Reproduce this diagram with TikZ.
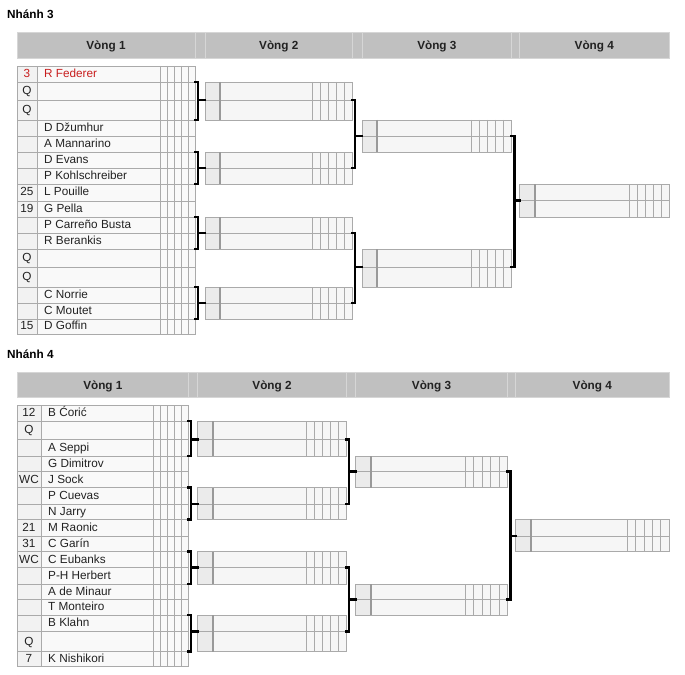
\documentclass[tikz,border=0pt]{standalone}
\usepackage{fontspec}
\setmainfont{Liberation Sans}
\definecolor{gridc}{RGB}{170,170,170}
\definecolor{seedone}{RGB}{242,242,242}
\definecolor{nameone}{RGB}{249,249,249}
\definecolor{seedboxc}{RGB}{235,235,235}
\definecolor{nameboxc}{RGB}{246,246,246}
\definecolor{hdrc}{RGB}{192,192,192}
\definecolor{hdrline}{RGB}{214,214,214}
\definecolor{txtc}{RGB}{34,34,34}
\definecolor{fedred}{RGB}{200,30,30}
\tikzset{
  grid/.style={draw=gridc, line width=0.8bp},
  seeddiv/.style={draw=gridc!90!black, line width=1.8bp},
  brk/.style={draw=black, line width=2.6bp, line join=miter, line cap=rect},
  hdrcell/.style={fill=hdrc, draw=hdrline, line width=1bp},
  hdrtxt/.style={font=\fontsize{11.8}{13}\selectfont\bfseries, text=txtc, anchor=base, inner sep=0pt},
  seedtxt/.style={font=\fontsize{11.8}{13}\selectfont, text=txtc, anchor=base, inner sep=0pt},
  nametxt/.style={font=\fontsize{11.8}{13}\selectfont, text=txtc, anchor=base west, inner sep=0pt},
  titletxt/.style={font=\fontsize{11.8}{13}\selectfont\bfseries, text=black, anchor=base west, inner sep=0pt}
}
% round-1 row: #1 id, #2 ytop, #3 ybot, #4 seed, #5 name ; uses \xa \xb \xc \xe
\newcommand\rowone[5]{%
  \pgfmathsetmacro\ymid{(#2+#3)/2}%
  \pgfmathsetmacro\sw{(\xe-\xc)/5}%
  \filldraw[grid, fill=seedone] (\xa,#2) rectangle (\xb,#3);
  \filldraw[grid, fill=nameone] (\xb,#2) rectangle (\xe,#3);
  \draw[grid] (\xc,#2) -- (\xc,#3);
  \foreach \k in {1,...,4}{\draw[grid] ({\xc+\k*\sw},#2) -- ({\xc+\k*\sw},#3);}
  \node[seedtxt] (#1s) at ({(\xa+\xb)/2},\ymid+3.4) {#4};
  \node[nametxt] (#1n) at (\xb+7,\ymid+3.4) {#5};
  \coordinate (#1ne) at (\xe,#2);
  \coordinate (#1se) at (\xe,#3);
}
% later-round box: #1 id, #2 x0, #3 seed end, #4 score start, #5 x1, #6 ytop, #7 ymid, #8 ybot
\newcommand\boxr[8]{%
  \pgfmathsetmacro\sw{(#5-#4)/5}%
  \fill[seedboxc] (#2,#6) rectangle (#3,#8);
  \fill[nameboxc] (#3,#6) rectangle (#5,#8);
  \draw[grid] (#2,#6) rectangle (#5,#8);
  \draw[grid] (#2,#7) -- (#5,#7);
  \foreach \k in {0,...,4}{\draw[grid] ({#4+\k*\sw},#6) -- ({#4+\k*\sw},#8);}
  \draw[seeddiv] (#3,#6) -- (#3,#8);
  \coordinate (#1w) at (#2,#7);
  \coordinate (#1e) at (#5,#7);
}
% header cell: #1 id, #2 x0, #3 x1, #4 y0, #5 y1, #6 text
\newcommand\hcell[6]{%
  \filldraw[hdrcell] (#2,#4) rectangle (#3,#5);
  \node[hdrtxt] (#1) at ({(#2+#3)/2},{(#4+#5)/2+4.2}) {#6};
}
\begin{document}
\begin{tikzpicture}[x=1bp,y=-1bp]
\useasboundingbox (0,0) rectangle (685,675);
\fill[white] (0,0) rectangle (685,675);

% ================= Nhánh 3 =================
\node[titletxt] (t3) at (7,18.8) {Nhánh 3};
\hcell{h3a}{17}{195}{33}{58.5}{Vòng 1}
\hcell{h3g1}{195}{205}{33}{58.5}{}
\hcell{h3b}{205}{352.5}{33}{58.5}{Vòng 2}
\hcell{h3g2}{352.5}{362}{33}{58.5}{}
\hcell{h3c}{362}{511.7}{33}{58.5}{Vòng 3}
\hcell{h3g3}{511.7}{519.3}{33}{58.5}{}
\hcell{h3d}{519.3}{669.3}{33}{58.5}{Vòng 4}

\def\xa{17}\def\xb{37}\def\xc{160}\def\xe{195}
\rowone{p1}{66}{82}{\color{fedred}3}{\color{fedred}R Federer}
\rowone{p2}{82}{100}{Q}{}
\rowone{p3}{100}{120}{Q}{}
\rowone{p4}{120}{136}{}{D Džumhur}
\rowone{p5}{136}{152}{}{A Mannarino}
\rowone{p6}{152}{168}{}{D Evans}
\rowone{p7}{168}{184}{}{P Kohlschreiber}
\rowone{p8}{184}{201}{25}{L Pouille}
\rowone{p9}{201}{217}{19}{G Pella}
\rowone{p10}{217}{233}{}{P Carreño Busta}
\rowone{p11}{233}{249}{}{R Berankis}
\rowone{p12}{249}{267}{Q}{}
\rowone{p13}{267}{287}{Q}{}
\rowone{p14}{287}{303}{}{C Norrie}
\rowone{p15}{303}{319}{}{C Moutet}
\rowone{p16}{319}{334}{15}{D Goffin}

\boxr{a1}{205}{220}{312}{352.5}{82}{100}{120}
\boxr{a2}{205}{220}{312}{352.5}{152}{168}{184}
\boxr{a3}{205}{220}{312}{352.5}{217}{233}{249}
\boxr{a4}{205}{220}{312}{352.5}{287}{303}{319}
\boxr{b1}{362}{377}{471.7}{511.7}{120}{136}{152}
\boxr{b2}{362}{377}{471.7}{511.7}{249}{267}{287}
\boxr{c1}{519.3}{535}{629.3}{669.3}{184}{200.5}{217}

\coordinate (v31) at (198,0);
\coordinate (v32) at (355,0);
\coordinate (v33) at (514.3,0);
\draw[brk] (p2ne) -- (p2ne -| v31) -- (p3se -| v31) -- (p3se);
\draw[brk] (a1w -| v31) -- (a1w);
\draw[brk] (p6ne) -- (p6ne -| v31) -- (p7se -| v31) -- (p7se);
\draw[brk] (a2w -| v31) -- (a2w);
\draw[brk] (p10ne) -- (p10ne -| v31) -- (p11se -| v31) -- (p11se);
\draw[brk] (a3w -| v31) -- (a3w);
\draw[brk] (p14ne) -- (p14ne -| v31) -- (p15se -| v31) -- (p15se);
\draw[brk] (a4w -| v31) -- (a4w);
\draw[brk] (a1e) -- (a1e -| v32) -- (a2e -| v32) -- (a2e);
\draw[brk] (b1w -| v32) -- (b1w);
\draw[brk] (a3e) -- (a3e -| v32) -- (a4e -| v32) -- (a4e);
\draw[brk] (b2w -| v32) -- (b2w);
\draw[brk] (b1e) -- (b1e -| v33) -- (b2e -| v33) -- (b2e);
\draw[brk] (c1w -| v33) -- (c1w);

% ================= Nhánh 4 =================
\node[titletxt] (t4) at (7,358.5) {Nhánh 4};
\hcell{h4a}{17}{188.7}{372.3}{397.7}{Vòng 1}
\hcell{h4g1}{188.7}{197.3}{372.3}{397.7}{}
\hcell{h4b}{197.3}{346.7}{372.3}{397.7}{Vòng 2}
\hcell{h4g2}{346.7}{355.7}{372.3}{397.7}{}
\hcell{h4c}{355.7}{507.3}{372.3}{397.7}{Vòng 3}
\hcell{h4g3}{507.3}{515.3}{372.3}{397.7}{}
\hcell{h4d}{515.3}{669.3}{372.3}{397.7}{Vòng 4}

\def\xa{17}\def\xb{41}\def\xc{153.3}\def\xe{188.7}
\rowone{q1}{405.7}{421}{12}{B Ćorić}
\rowone{q2}{421}{439.3}{Q}{}
\rowone{q3}{439.3}{456}{}{A Seppi}
\rowone{q4}{456}{471.7}{}{G Dimitrov}
\rowone{q5}{471.7}{487.7}{WC}{J Sock}
\rowone{q6}{487.7}{504}{}{P Cuevas}
\rowone{q7}{504}{519.3}{}{N Jarry}
\rowone{q8}{519.3}{536}{21}{M Raonic}
\rowone{q9}{536}{551.7}{31}{C Garín}
\rowone{q10}{551.7}{567.7}{WC}{C Eubanks}
\rowone{q11}{567.7}{584}{}{P-H Herbert}
\rowone{q12}{584}{599.3}{}{A de Minaur}
\rowone{q13}{599.3}{615}{}{T Monteiro}
\rowone{q14}{615}{631.7}{}{B Klahn}
\rowone{q15}{631.7}{651.7}{Q}{}
\rowone{q16}{651.7}{666.7}{7}{K Nishikori}

\boxr{d1}{197.3}{213}{306.7}{346.7}{421}{439.3}{456}
\boxr{d2}{197.3}{213}{306.7}{346.7}{487.7}{504}{519.3}
\boxr{d3}{197.3}{213}{306.7}{346.7}{551.7}{567.7}{584}
\boxr{d4}{197.3}{213}{306.7}{346.7}{615}{631.7}{651.7}
\boxr{e1}{355.7}{371}{465.3}{507.3}{456}{471.7}{487.7}
\boxr{e2}{355.7}{371}{465.3}{507.3}{584}{599.3}{615}
\boxr{f1}{515.3}{530.7}{627}{669.3}{519.3}{536}{551.7}

\coordinate (v41) at (191,0);
\coordinate (v42) at (349,0);
\coordinate (v43) at (510.6,0);
\draw[brk] (q2ne) -- (q2ne -| v41) -- (q3se -| v41) -- (q3se);
\draw[brk] (d1w -| v41) -- (d1w);
\draw[brk] (q6ne) -- (q6ne -| v41) -- (q7se -| v41) -- (q7se);
\draw[brk] (d2w -| v41) -- (d2w);
\draw[brk] (q10ne) -- (q10ne -| v41) -- (q11se -| v41) -- (q11se);
\draw[brk] (d3w -| v41) -- (d3w);
\draw[brk] (q14ne) -- (q14ne -| v41) -- (q15se -| v41) -- (q15se);
\draw[brk] (d4w -| v41) -- (d4w);
\draw[brk] (d1e) -- (d1e -| v42) -- (d2e -| v42) -- (d2e);
\draw[brk] (e1w -| v42) -- (e1w);
\draw[brk] (d3e) -- (d3e -| v42) -- (d4e -| v42) -- (d4e);
\draw[brk] (e2w -| v42) -- (e2w);
\draw[brk] (e1e) -- (e1e -| v43) -- (e2e -| v43) -- (e2e);
\draw[brk] (f1w -| v43) -- (f1w);
\end{tikzpicture}
\end{document}
